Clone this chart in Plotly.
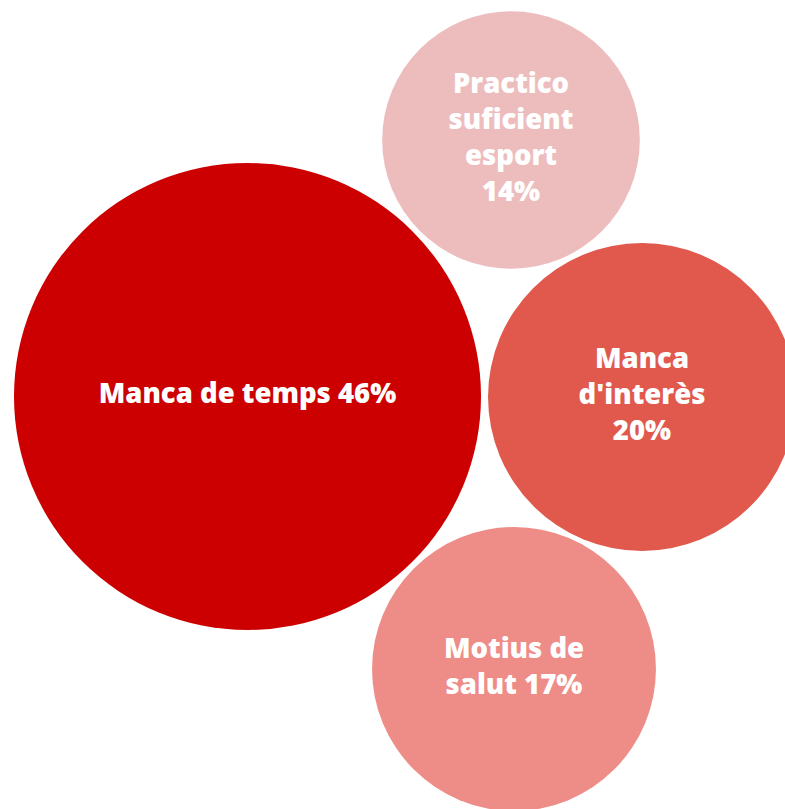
import numpy as np
import plotly.graph_objects as go

# Reasons for not doing (more) sport, share of respondents (%)
labels = [
    "Manca de temps",
    "Practico<br>suficient<br>esport",
    "Manca<br>d'interès",
    "Motius de<br>salut",
]
values = [46, 14, 20, 17]
label_sep = [" ", "<br>", "<br>", " "]

# Bubble layout (pixel coordinates of centres) and colours
centre_x = [247.5, 511, 642, 514]
centre_y = [396.5, 140, 397, 669]
colors = ["#CC0000", "#EDBDBE", "#E0594C", "#EE8C87"]

# Bubble area proportional to the value
px_per_sqrt = 233.5 / np.sqrt(46)
diameters = [2 * px_per_sqrt * np.sqrt(v) for v in values]
texts = [f"{l}{s}{v}%" for l, s, v in zip(labels, label_sep, values)]

fig = go.Figure(
    go.Scatter(
        x=centre_x,
        y=centre_y,
        mode="markers+text",
        text=texts,
        textposition="middle center",
        textfont=dict(family="Open Sans", size=27.5, color="white", weight=800),
        marker=dict(size=diameters, sizemode="diameter", color=colors,
                    opacity=1, line=dict(width=0)),
        hoverinfo="skip",
        cliponaxis=False,
    )
)

fig.update_layout(
    width=785,
    height=809,
    margin=dict(l=0, r=0, t=0, b=0),
    paper_bgcolor="white",
    plot_bgcolor="white",
    showlegend=False,
    xaxis=dict(range=[0, 785], visible=False, fixedrange=True),
    yaxis=dict(range=[809, 0], visible=False, fixedrange=True),
)

fig.write_html("out.html")
